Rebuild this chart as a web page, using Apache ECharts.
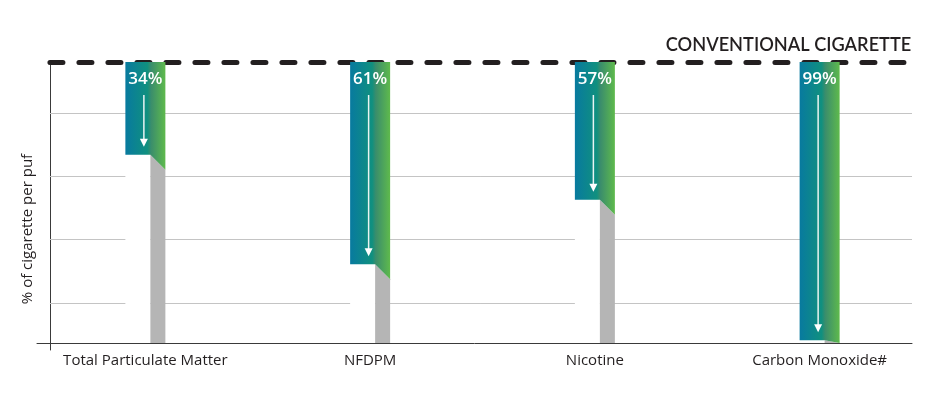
<!DOCTYPE html>
<html>
<head>
<meta charset="utf-8">
<script src="https://cdn.jsdelivr.net/npm/echarts@6/dist/echarts.min.js"></script>
<style>
  html, body { margin: 0; padding: 0; background: #fff; }
  #chart { width: 932px; height: 399px; }
</style>
</head>
<body>
<div id="chart"></div>
<script>
// data
const categories = ['Total Particulate Matter', 'NFDPM', 'Nicotine', 'Carbon Monoxide#'];
const remaining = [67, 28, 51, 1];          // height of the white/grey part (% of cigarette)
const reductionLabels = ['34%', '61%', '57%', '99%'];
const conventionalLevel = 100;
const gridValues = [14.3, 36.8, 59.2, 81.6];

const myChart = echarts.init(document.getElementById('chart'));

// gradient of the reduction part
const topGradient = new echarts.graphic.LinearGradient(0, 0, 1, 0, [
  { offset: 0, color: '#087a9f' },
  { offset: 0.55, color: '#10907f' },
  { offset: 0.64, color: '#3a8d6c' },
  { offset: 1, color: '#5fba4c' }
]);

function renderBar(params, api) {
  const idx = api.value(0);
  const rem = api.value(1);
  const base = api.coord([idx, 0]);
  const mid = api.coord([idx, rem]);
  const top = api.coord([idx, conventionalLevel]);
  const cx = base[0];
  const x0 = cx - 20, xf = x0 + 25, x1 = x0 + 40;
  const yB = base[1], yM = mid[1], yT = top[1];
  const ySide = Math.min(yM + 15, yB);
  const ax = x0 + 18.5;
  return {
    type: 'group',
    children: [
      { type: 'rect', shape: { x: x0, y: yM, width: 25, height: yB - yM }, style: { fill: '#ffffff' } },
      { type: 'polygon', shape: { points: [[xf, yM], [x1, ySide], [x1, yB], [xf, yB]] }, style: { fill: '#b5b5b5' } },
      { type: 'polygon', shape: { points: [[x0, yT], [x1, yT], [x1, ySide], [xf, yM], [x0, yM]] }, style: { fill: topGradient } },
      { type: 'line', shape: { x1: ax, y1: yT + 33, x2: ax, y2: yM - 12 }, style: { stroke: '#e9f3f2', lineWidth: 1.5 } },
      { type: 'polygon', shape: { points: [[ax - 4, yM - 16], [ax + 4, yM - 16], [ax, yM - 8]] }, style: { fill: '#ffffff' } },
      {
        type: 'text',
        style: {
          text: reductionLabels[idx], x: cx, y: yT + 17, align: 'center', verticalAlign: 'middle',
          fill: '#ffffff', fontSize: 17, fontWeight: 600, fontFamily: 'Open Sans'
        }
      }
    ]
  };
}

const option = {
  backgroundColor: '#ffffff',
  animation: false,
  grid: [
    { left: 37, right: 20, top: 62, bottom: 49 },
    { left: 33, width: 902, top: 62, bottom: 56 }
  ],
  xAxis: [
    {
      gridIndex: 0, type: 'value', min: -1.5, max: 100,
      axisLine: { show: true, onZero: true, lineStyle: { color: '#3a3a3a', width: 1 } },
      axisTick: { show: false }, axisLabel: { show: false }, splitLine: { show: false }
    },
    {
      gridIndex: 1, type: 'category', data: categories,
      axisLine: { show: false }, axisTick: { show: false },
      axisLabel: { fontSize: 15, color: '#231f20', margin: 10, fontFamily: 'Open Sans' }
    }
  ],
  yAxis: [
    {
      gridIndex: 0, type: 'value', min: -2.5, max: 100,
      axisLine: { show: true, onZero: true, lineStyle: { color: '#3a3a3a', width: 1 } },
      axisTick: { show: false }, axisLabel: { show: false }, splitLine: { show: false },
      name: '% of cigarette per puf', nameLocation: 'middle', nameGap: 2,
      nameTextStyle: { fontSize: 15, color: '#231f20', fontFamily: 'Open Sans', padding: [0, 46, 0, 0] }
    },
    { gridIndex: 1, type: 'value', min: 0, max: 100, show: false }
  ],
  series: [
    {
      // grid lines
      type: 'line', xAxisIndex: 0, yAxisIndex: 0, data: [], z: 1,
      markLine: {
        silent: true, symbol: 'none', label: { show: false },
        lineStyle: { color: '#c4c4c4', width: 1, type: 'solid' },
        data: gridValues.map(v => [{ coord: [0, v] }, { coord: [100, v] }])
      }
    },
    {
      type: 'custom', xAxisIndex: 1, yAxisIndex: 1, z: 5,
      renderItem: renderBar,
      data: remaining.map((v, i) => [i, v])
    },
    {
      // conventional cigarette reference line
      type: 'line', xAxisIndex: 0, yAxisIndex: 0, data: [], z: 10,
      markLine: {
        silent: true, symbol: 'none',
        lineStyle: { color: '#231f20', width: 5, type: [13, 16], cap: 'round' },
        label: {
          show: true, position: 'insideEndTop', distance: [-7, 8],
          formatter: 'CONVENTIONAL CIGARETTE',
          fontSize: 18.2, fontWeight: 600, color: '#231f20', fontFamily: 'Lato'
        },
        data: [[{ coord: [0, conventionalLevel] }, { coord: [99.1, conventionalLevel] }]]
      }
    }
  ]
};

myChart.setOption(option);
</script>
</body>
</html>
